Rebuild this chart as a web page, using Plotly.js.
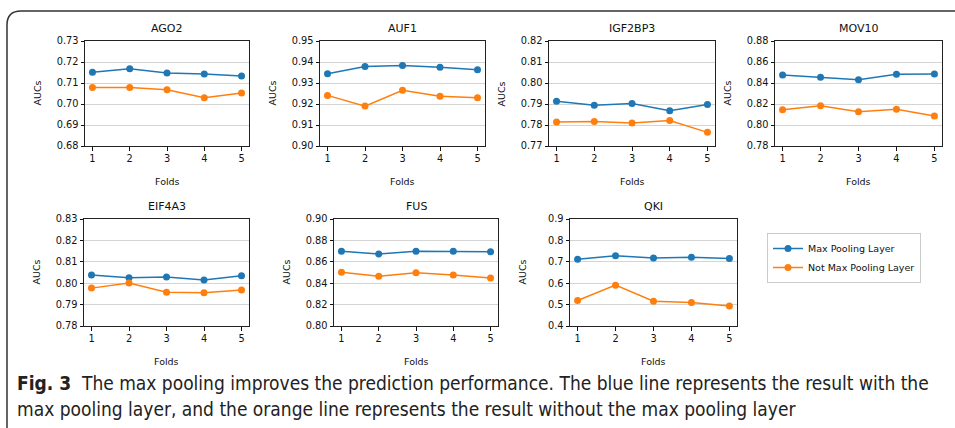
<!DOCTYPE html>
<html><head><meta charset="utf-8">
<script src="https://cdn.plot.ly/plotly-3.0.1.min.js"></script>
<style>html,body{margin:0;padding:0;background:#fff}#chart{width:955px;height:428px}</style>
</head><body><div id="chart"></div>
<script>
const folds = [1, 2, 3, 4, 5];
const panelNames = ["AGO2", "AUF1", "IGF2BP3", "MOV10", "EIF4A3", "FUS", "QKI"];
const maxPooling = {
  AGO2:    [0.7151, 0.7168, 0.7148, 0.7143, 0.7133],
  AUF1:    [0.9344, 0.9379, 0.9383, 0.9375, 0.9363],
  IGF2BP3: [0.7913, 0.7894, 0.7902, 0.7868, 0.7898],
  MOV10:   [0.8476, 0.8454, 0.8432, 0.8483, 0.8486],
  EIF4A3:  [0.8038, 0.8026, 0.8029, 0.8015, 0.8035],
  FUS:     [0.8699, 0.8674, 0.8699, 0.8699, 0.8693],
  QKI:     [0.712, 0.728, 0.718, 0.721, 0.715]
};
const notMaxPooling = {
  AGO2:    [0.7078, 0.7078, 0.7068, 0.7030, 0.7052],
  AUF1:    [0.9241, 0.9190, 0.9265, 0.9237, 0.9230],
  IGF2BP3: [0.7814, 0.7817, 0.7810, 0.7821, 0.7765],
  MOV10:   [0.8146, 0.8184, 0.8127, 0.8149, 0.8086],
  EIF4A3:  [0.7977, 0.8001, 0.7958, 0.7955, 0.7968],
  FUS:     [0.8502, 0.8464, 0.8498, 0.8477, 0.8448],
  QKI:     [0.519, 0.591, 0.516, 0.510, 0.494]
};
const yRanges = {
  AGO2: [0.68, 0.73], AUF1: [0.90, 0.95], IGF2BP3: [0.77, 0.82], MOV10: [0.78, 0.88],
  EIF4A3: [0.78, 0.83], FUS: [0.80, 0.90], QKI: [0.4, 0.9]
};
const yTicks = {
  AGO2: [0.68, 0.69, 0.70, 0.71, 0.72, 0.73],
  AUF1: [0.90, 0.91, 0.92, 0.93, 0.94, 0.95],
  IGF2BP3: [0.77, 0.78, 0.79, 0.80, 0.81, 0.82],
  MOV10: [0.78, 0.80, 0.82, 0.84, 0.86, 0.88],
  EIF4A3: [0.78, 0.79, 0.80, 0.81, 0.82, 0.83],
  FUS: [0.80, 0.82, 0.84, 0.86, 0.88, 0.90],
  QKI: [0.4, 0.5, 0.6, 0.7, 0.8, 0.9]
};
const yTickFormat = {AGO2: ".2f", AUF1: ".2f", IGF2BP3: ".2f", MOV10: ".2f", EIF4A3: ".2f", FUS: ".2f", QKI: ".1f"};
const seriesNames = ["Max Pooling Layer", "Not Max Pooling Layer"];
const captionLine1 = "<b>Fig. 3</b>  The max pooling improves the prediction performance. The blue line represents the result with the";
const captionLine2 = "max pooling layer, and the orange line represents the result without the max pooling layer";

// layout geometry (pixels)
const W = 955, H = 428;
const boxes = [
  [85, 249, 41, 146], [320, 485, 41, 146], [549, 715, 41, 146], [775, 942, 41, 146],
  [84, 249, 219, 326], [334, 498, 219, 326], [570, 737, 219, 326]
];
const px = x => x / W, py = y => 1 - y / H;
const BLUE = "#1f77b4", ORANGE = "#ff7f0e";
const tickFont = {family: "DejaVu Sans", size: 9.8, color: "#111"};

const data = [], annotations = [];
const layout = {
  width: W, height: H, margin: {l: 0, r: 0, t: 0, b: 0},
  paper_bgcolor: "#fff", plot_bgcolor: "#fff", showlegend: true,
  font: {family: "DejaVu Sans", color: "#111"},
  legend: {x: px(767), y: py(233), xanchor: "left", yanchor: "top",
    bordercolor: "#cccccc", borderwidth: 1, bgcolor: "#fff",
    font: {family: "DejaVu Sans", size: 9.5, color: "#111"}, itemwidth: 30, tracegroupgap: 0},
  annotations: annotations,
  shapes: [{type: "path", xref: "paper", yref: "paper",
    path: `M ${px(955)} ${py(11)} L ${px(21)} ${py(11)} Q ${px(7)} ${py(11)} ${px(7)} ${py(25)} L ${px(7)} ${py(428)}`,
    line: {color: "#333", width: 1.5}}]
};

panelNames.forEach((name, i) => {
  const n = i + 1, sfx = n === 1 ? "" : String(n);
  const [x0, x1, y0, y1] = boxes[i];
  [maxPooling[name], notMaxPooling[name]].forEach((vals, k) => {
    data.push({x: folds, y: vals, type: "scatter", mode: "lines+markers",
      name: seriesNames[k], legendgroup: seriesNames[k], showlegend: i === 0,
      xaxis: "x" + sfx, yaxis: "y" + sfx,
      line: {color: k === 0 ? BLUE : ORANGE, width: 1.5},
      marker: {color: k === 0 ? BLUE : ORANGE, size: 7}});
  });
  layout["xaxis" + sfx] = {domain: [px(x0), px(x1)], anchor: "y" + sfx, range: [0.8, 5.2],
    tickvals: folds, ticks: "outside", ticklen: 3.5, tickcolor: "#111", showgrid: false,
    zeroline: false, showline: true, mirror: true, linecolor: "#222", linewidth: 1,
    tickfont: tickFont, fixedrange: true};
  layout["yaxis" + sfx] = {domain: [py(y1), py(y0)], anchor: "x" + sfx, range: yRanges[name],
    tickvals: yTicks[name], tickformat: yTickFormat[name], ticks: "outside", ticklen: 3.5,
    tickcolor: "#111", showgrid: true, gridcolor: "#d4d4d4", gridwidth: 1, zeroline: false,
    showline: true, mirror: true, linecolor: "#222", linewidth: 1, tickfont: tickFont, fixedrange: true};
  const cx = (x0 + x1) / 2;
  annotations.push({text: name, xref: "paper", yref: "paper", x: px(cx), y: py(y0 - 4),
    xanchor: "center", yanchor: "bottom", showarrow: false,
    font: {family: "DejaVu Sans", size: 11, color: "#111"}});
  annotations.push({text: "Folds", xref: "paper", yref: "paper", x: px(cx), y: py(y1 + 35),
    xanchor: "center", yanchor: "middle", showarrow: false,
    font: {family: "DejaVu Sans", size: 9.5, color: "#111"}});
  annotations.push({text: "AUCs", xref: "paper", yref: "paper", x: px(x0 - 48), y: py((y0 + y1) / 2),
    xanchor: "center", yanchor: "middle", textangle: -90, showarrow: false,
    font: {family: "DejaVu Sans", size: 9.5, color: "#111"}});
});

annotations.push({text: captionLine1, xref: "paper", yref: "paper", x: px(15), y: py(383),
  xanchor: "left", yanchor: "middle", showarrow: false, align: "left",
  font: {family: "Liberation Sans Narrow, DejaVu Sans Condensed, sans-serif", size: 19, color: "#222"}});
annotations.push({text: captionLine2, xref: "paper", yref: "paper", x: px(15), y: py(409),
  xanchor: "left", yanchor: "middle", showarrow: false, align: "left",
  font: {family: "Liberation Sans Narrow, DejaVu Sans Condensed, sans-serif", size: 19, color: "#222"}});

Plotly.newPlot("chart", data, layout, {staticPlot: true, displayModeBar: false});
</script></body></html>
